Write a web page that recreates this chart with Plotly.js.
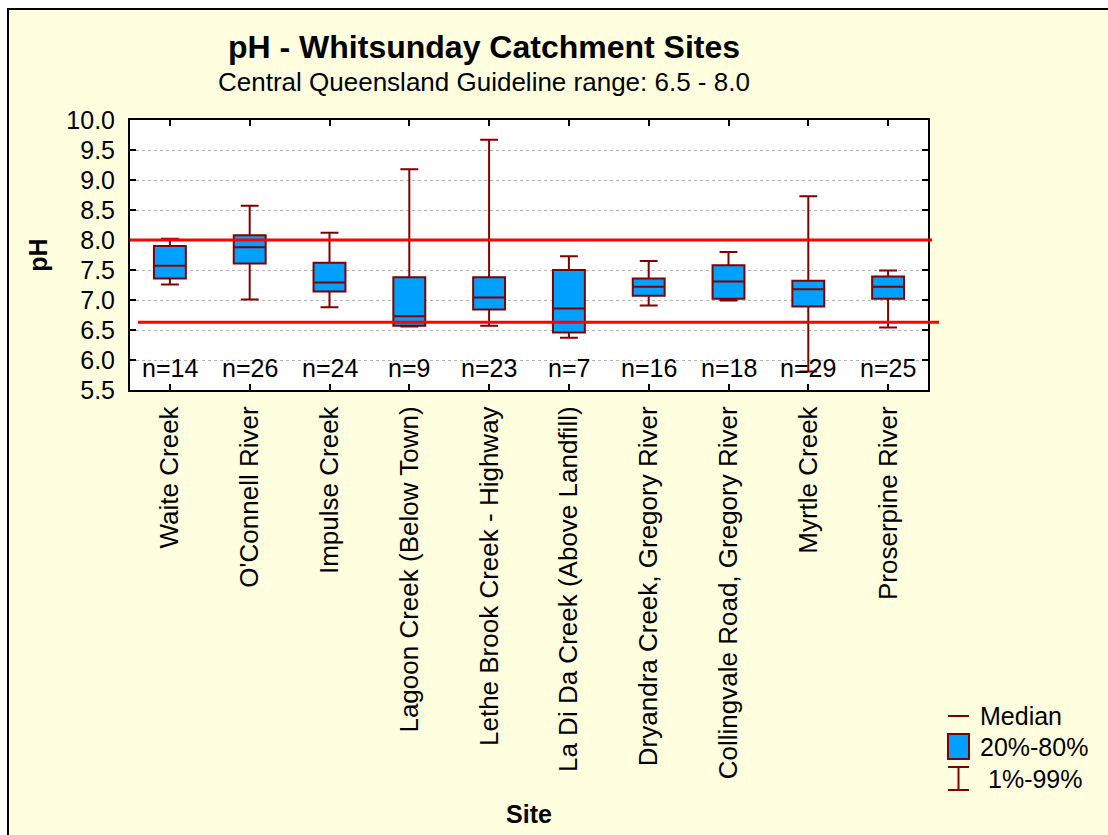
<!DOCTYPE html>
<html>
<head>
<meta charset="utf-8">
<script src="https://cdn.plot.ly/plotly-3.0.1.min.js"></script>
<style>html,body{margin:0;padding:0;background:#fff;}#chart{width:1108px;height:835px;}</style>
</head>
<body>
<div id="chart"></div>
<script>
// ---- data ----
const sites = ["Waite Creek", "O'Connell River", "Impulse Creek", "Lagoon Creek (Below Town)",
  "Lethe Brook Creek - Highway", "La Di Da Creek (Above Landfill)", "Dryandra Creek, Gregory River",
  "Collingvale Road, Gregory River", "Myrtle Creek", "Proserpine River"];
const p01 = [7.26, 7.01, 6.88, 6.56, 6.57, 6.37, 6.91, 6.99, 5.81, 6.54];
const p20 = [7.36, 7.61, 7.14, 6.57, 6.84, 6.46, 7.07, 7.02, 6.89, 7.02];
const medians = [7.57, 7.88, 7.29, 6.73, 7.04, 6.86, 7.22, 7.31, 7.18, 7.22];
const p80 = [7.90, 8.08, 7.62, 7.38, 7.38, 7.50, 7.36, 7.58, 7.32, 7.39];
const p99 = [8.02, 8.57, 8.12, 9.18, 9.67, 7.73, 7.65, 7.80, 8.73, 7.49];
const nCounts = [14, 26, 24, 9, 23, 7, 16, 18, 29, 25];
const guideUpper = 8.0;
const guideLower = 6.63;
const yTickVals = [5.5, 6.0, 6.5, 7.0, 7.5, 8.0, 8.5, 9.0, 9.5, 10.0];

// ---- layout helpers (pixel -> paper) ----
const L = 130, T = 120, R = 928, B = 390;
const W = R - L, H = B - T;
const px = x => (x - L) / W;
const py = y => (B - y) / H;

const FONT = 'Liberation Sans, Arial, sans-serif';
const MAROON = '#800000';
const BLUE = '#00A0FF';

const trace = {
  type: 'box',
  x: sites,
  q1: p20,
  median: medians,
  q3: p80,
  lowerfence: p01,
  upperfence: p99,
  boxpoints: false,
  width: 0.4,
  whiskerwidth: 0.56,
  fillcolor: BLUE,
  line: {color: MAROON, width: 2},
  hoverinfo: 'none',
  showlegend: false
};

const annotations = sites.map((s, i) => ({
  x: s, y: 5.86, xref: 'x', yref: 'y',
  text: 'n=' + nCounts[i], showarrow: false,
  font: {family: FONT, size: 25, color: '#000'},
  xanchor: 'center', yanchor: 'middle'
}));

annotations.push(
  {x: px(484), y: py(47), xref: 'paper', yref: 'paper', text: '<b>pH - Whitsunday Catchment Sites</b>',
   showarrow: false, font: {family: FONT, size: 32, color: '#000'}, xanchor: 'center', yanchor: 'middle'},
  {x: px(484), y: py(82), xref: 'paper', yref: 'paper', text: 'Central Queensland Guideline range: 6.5 - 8.0',
   showarrow: false, font: {family: FONT, size: 26, color: '#000'}, xanchor: 'center', yanchor: 'middle'},
  {x: px(978), y: py(716), xref: 'paper', yref: 'paper', text: 'Median', showarrow: false,
   font: {family: FONT, size: 25, color: '#000'}, xanchor: 'left', yanchor: 'middle'},
  {x: px(978), y: py(747), xref: 'paper', yref: 'paper', text: '20%-80%', showarrow: false,
   font: {family: FONT, size: 25, color: '#000'}, xanchor: 'left', yanchor: 'middle'},
  {x: px(986), y: py(779), xref: 'paper', yref: 'paper', text: '1%-99%', showarrow: false,
   font: {family: FONT, size: 25, color: '#000'}, xanchor: 'left', yanchor: 'middle'}
);

const shapes = [
  // outer frame
  {type: 'rect', xref: 'paper', yref: 'paper', x0: px(8), x1: px(1120), y0: py(850), y1: py(9),
   fillcolor: '#FFFFE0', line: {color: '#000', width: 2}, layer: 'below'},
  // plot area background
  {type: 'rect', xref: 'paper', yref: 'paper', x0: 0, x1: 1, y0: 0, y1: 1,
   fillcolor: '#FFFFFF', line: {width: 0}, layer: 'below'},
  // guideline lines
  {type: 'line', xref: 'paper', yref: 'y', x0: px(130), x1: px(932), y0: guideUpper, y1: guideUpper,
   line: {color: '#FF0000', width: 3}, layer: 'above'},
  {type: 'line', xref: 'paper', yref: 'y', x0: px(138), x1: px(939), y0: guideLower, y1: guideLower,
   line: {color: '#FF0000', width: 3}, layer: 'above'},
  // legend: median
  {type: 'line', xref: 'paper', yref: 'paper', x0: px(948), x1: px(969), y0: py(716), y1: py(716),
   line: {color: MAROON, width: 2}},
  // legend: box
  {type: 'rect', xref: 'paper', yref: 'paper', x0: px(948), x1: px(969), y0: py(759), y1: py(734),
   fillcolor: BLUE, line: {color: MAROON, width: 2}},
  // legend: whisker
  {type: 'line', xref: 'paper', yref: 'paper', x0: px(958.5), x1: px(958.5), y0: py(767), y1: py(790),
   line: {color: MAROON, width: 2}},
  {type: 'line', xref: 'paper', yref: 'paper', x0: px(948), x1: px(969), y0: py(767), y1: py(767),
   line: {color: MAROON, width: 2}},
  {type: 'line', xref: 'paper', yref: 'paper', x0: px(948), x1: px(969), y0: py(790), y1: py(790),
   line: {color: MAROON, width: 2}}
];

const layout = {
  width: 1108, height: 835,
  margin: {l: L, r: 1108 - R, t: T, b: 835 - B, pad: 0},
  paper_bgcolor: '#FFFFFF',
  plot_bgcolor: 'rgba(0,0,0,0)',
  font: {family: FONT, size: 25, color: '#000'},
  showlegend: false,
  xaxis: {
    type: 'category', range: [-0.5, sites.length - 0.5],
    tickangle: -90, ticks: 'inside', ticklen: 6, tickwidth: 2, tickcolor: '#000',
    showline: true, linecolor: '#000', linewidth: 2, mirror: 'ticks',
    showgrid: false, zeroline: false, automargin: false,
    ticklabelstandoff: 4,
    tickfont: {family: FONT, size: 26, color: '#000'},
    title: {text: '<b>Site</b>', font: {family: FONT, size: 25, color: '#000'}, standoff: 27}
  },
  yaxis: {
    range: [5.5, 10.0], tickvals: yTickVals, tickformat: '.1f',
    ticks: 'inside', ticklen: 6, tickwidth: 2, tickcolor: '#000',
    showline: true, linecolor: '#000', linewidth: 2, mirror: 'ticks',
    showgrid: true, gridcolor: '#b4b4b4', gridwidth: 1, griddash: 'dot',
    zeroline: false, automargin: false,
    ticklabelstandoff: 8,
    tickfont: {family: FONT, size: 25, color: '#000'},
    title: {text: '<b>pH</b>', font: {family: FONT, size: 25, color: '#000'}, standoff: 12}
  },
  shapes: shapes,
  annotations: annotations
};

Plotly.newPlot('chart', [trace], layout, {displayModeBar: false, staticPlot: true});
</script>
</body>
</html>
